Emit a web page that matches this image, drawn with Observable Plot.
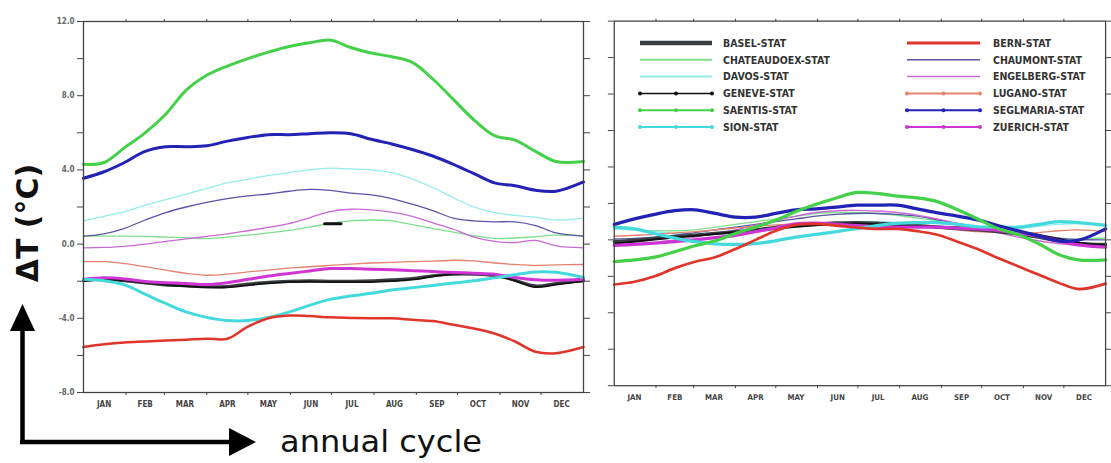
<!DOCTYPE html>
<html><head><meta charset="utf-8">
<script src="https://cdn.jsdelivr.net/npm/d3@7"></script>
<script src="https://cdn.jsdelivr.net/npm/@observablehq/plot@0.6"></script>
<style>
html,body{margin:0;padding:0;background:#fff;}
#wrap{position:relative;width:1111px;height:463px;overflow:hidden;background:#fff;}
#left{position:absolute;left:0;top:0;}
#right{position:absolute;left:600px;top:0;}
#deco{position:absolute;left:0;top:0;pointer-events:none;}
</style></head>
<body><div id="wrap"><div id="left"></div><div id="right"></div><svg id="deco" width="1111" height="463"></svg></div>
<script>
// ---------- data ----------
const days = [0,15,30,45,60,75,90,105,120,135,150,165,180,195,210,225,240,255,270,285,300,315,330,345,365];
const monthLabels = ["JAN","FEB","MAR","APR","MAY","JUN","JUL","AUG","SEP","OCT","NOV","DEC"];
const monthStarts = [31,59,90,120,151,181,212,243,273,304,334];
const monthMids = [15,45,74,105,135,166,196,227,258,288,319,349];
const yTicks = [-8,-6,-4,-2,0,2,4,6,8,10,12];

const stations = ["BASEL-STAT","CHATEAUDOEX-STAT","DAVOS-STAT","GENEVE-STAT","SAENTIS-STAT","SION-STAT",
                  "BERN-STAT","CHAUMONT-STAT","ENGELBERG-STAT","LUGANO-STAT","SEGLMARIA-STAT","ZUERICH-STAT"];

// left panel (ΔT, °C)
const baselL      = [-1.95,-1.9,-1.98,-2.1,-2.2,-2.25,-2.3,-2.28,-2.15,-2.05,-2.0,-1.98,-2.0,-2.0,-1.98,-1.92,-1.85,-1.7,-1.62,-1.62,-1.7,-1.95,-2.25,-2.12,-1.98];
const chateauL    = [0.43,0.43,0.43,0.42,0.38,0.35,0.3,0.38,0.48,0.6,0.74,0.92,1.12,1.25,1.3,1.25,1.05,0.83,0.65,0.45,0.3,0.33,0.4,0.48,0.45];
const davosL      = [1.25,1.5,1.75,2.1,2.4,2.7,3.0,3.3,3.5,3.7,3.85,4.0,4.1,4.05,4.0,3.85,3.5,3.05,2.5,2.0,1.7,1.55,1.45,1.3,1.4];
const geneveL     = [-2.0,-1.92,-1.95,-2.08,-2.18,-2.28,-2.33,-2.33,-2.22,-2.12,-2.05,-2.03,-2.05,-2.05,-2.05,-2.0,-1.92,-1.75,-1.6,-1.6,-1.65,-1.98,-2.32,-2.18,-2.0];
const saentisL    = [4.3,4.4,5.2,6.0,7.0,8.3,9.1,9.6,10.0,10.35,10.65,10.85,11.0,10.6,10.3,10.1,9.8,8.9,7.8,6.7,5.85,5.6,5.0,4.45,4.45];
const sionL       = [-1.9,-1.98,-2.2,-2.7,-3.2,-3.65,-3.95,-4.12,-4.12,-3.95,-3.67,-3.3,-2.98,-2.8,-2.65,-2.47,-2.35,-2.23,-2.1,-1.98,-1.82,-1.65,-1.5,-1.52,-1.8];
const bernL       = [-5.55,-5.4,-5.3,-5.25,-5.2,-5.15,-5.1,-5.1,-4.45,-4.0,-3.85,-3.88,-3.95,-3.98,-4.0,-4.0,-4.08,-4.15,-4.35,-4.55,-4.82,-5.25,-5.8,-5.88,-5.55];
const chaumontL   = [0.43,0.55,0.85,1.3,1.7,2.0,2.25,2.45,2.6,2.7,2.85,2.95,2.9,2.75,2.65,2.45,2.15,1.8,1.4,1.25,1.2,1.2,1.0,0.6,0.43];
const engelbergL  = [-0.2,-0.18,-0.12,0.0,0.15,0.28,0.42,0.55,0.72,0.9,1.1,1.42,1.75,1.88,1.85,1.72,1.5,1.15,0.8,0.38,0.15,0.08,0.2,-0.1,-0.2];
const luganoL     = [-0.95,-0.95,-1.05,-1.22,-1.4,-1.58,-1.68,-1.62,-1.5,-1.4,-1.3,-1.22,-1.15,-1.08,-1.02,-0.98,-0.95,-0.92,-0.87,-0.9,-1.02,-1.1,-1.15,-1.12,-1.1];
const seglmariaL  = [3.55,3.9,4.4,5.0,5.25,5.25,5.3,5.55,5.75,5.9,5.9,5.95,6.0,5.95,5.65,5.4,5.1,4.75,4.3,3.8,3.3,3.15,2.9,2.85,3.35];
const zuerichL    = [-1.9,-1.82,-1.88,-2.02,-2.08,-2.12,-2.18,-2.08,-1.9,-1.72,-1.58,-1.45,-1.32,-1.32,-1.35,-1.38,-1.43,-1.48,-1.53,-1.57,-1.62,-1.8,-1.92,-1.95,-1.9];
// small black mark in the left panel
const markDays = [176,188];
const markVals = [1.1,1.1];

// right panel
const baselR      = [-0.1,-0.02,0.08,0.18,0.26,0.35,0.45,0.55,0.68,0.8,0.88,0.93,0.95,0.92,0.85,0.78,0.7,0.62,0.55,0.45,0.32,0.15,-0.05,-0.2,-0.25];
const chateauR    = [0.6,0.55,0.5,0.5,0.55,0.7,0.85,1.0,1.15,1.3,1.45,1.5,1.5,1.45,1.35,1.2,1.05,0.85,0.65,0.45,0.3,0.1,0.0,0.05,0.1];
const davosR      = [0.6,0.55,0.45,0.35,0.3,0.3,0.35,0.45,0.55,0.7,0.8,0.9,1.0,1.0,0.95,0.85,0.7,0.6,0.5,0.5,0.6,0.75,0.85,0.9,0.85];
const geneveR     = [-0.2,-0.1,0.02,0.13,0.22,0.32,0.42,0.5,0.62,0.72,0.8,0.86,0.9,0.86,0.8,0.76,0.72,0.7,0.64,0.57,0.45,0.28,0.05,-0.15,-0.3];
const saentisR    = [-1.2,-1.1,-0.95,-0.65,-0.32,-0.05,0.35,0.7,1.08,1.55,1.95,2.3,2.6,2.55,2.4,2.3,2.1,1.65,1.15,0.62,0.3,-0.2,-0.8,-1.1,-1.1];
const sionR       = [0.7,0.6,0.35,0.1,-0.1,-0.22,-0.25,-0.2,-0.05,0.15,0.3,0.45,0.62,0.78,0.9,0.95,0.95,0.85,0.72,0.7,0.7,0.85,1.0,0.95,0.8];
const bernR       = [-2.45,-2.3,-2.0,-1.55,-1.2,-0.95,-0.5,0.0,0.5,0.82,0.88,0.78,0.68,0.6,0.6,0.48,0.28,-0.1,-0.5,-1.0,-1.45,-1.9,-2.35,-2.7,-2.4];
const chaumontR   = [0.05,0.08,0.15,0.25,0.4,0.55,0.7,0.85,1.0,1.15,1.3,1.4,1.45,1.45,1.4,1.3,1.1,0.9,0.7,0.5,0.35,0.2,0.1,0.02,0.0];
const engelbergR  = [-0.3,-0.25,-0.15,0.0,0.15,0.35,0.55,0.8,1.05,1.3,1.5,1.6,1.62,1.58,1.5,1.35,1.15,0.9,0.65,0.4,0.15,-0.05,-0.2,-0.3,-0.35];
const luganoR     = [0.2,0.25,0.3,0.38,0.45,0.55,0.65,0.75,0.82,0.88,0.9,0.92,0.9,0.88,0.82,0.75,0.65,0.55,0.45,0.4,0.38,0.4,0.5,0.55,0.45];
const seglmariaR  = [0.85,1.15,1.4,1.6,1.65,1.45,1.25,1.25,1.45,1.65,1.7,1.8,1.9,1.9,1.9,1.7,1.48,1.3,1.1,0.78,0.5,0.22,-0.05,-0.02,0.6];
const zuerichR    = [-0.3,-0.25,-0.18,-0.1,0.0,0.12,0.25,0.45,0.65,0.88,0.92,0.85,0.78,0.72,0.7,0.7,0.7,0.65,0.6,0.52,0.38,0.2,-0.05,-0.28,-0.4];

// ---------- styles ----------
const style = {
  "BASEL-STAT":       {color:"#3a3f44", w:3.0, lw:4.5, marker:false},
  "CHATEAUDOEX-STAT": {color:"#7fe08c", w:1.3, lw:2,   marker:false},
  "DAVOS-STAT":       {color:"#95ecea", w:1.3, lw:2,   marker:false},
  "GENEVE-STAT":      {color:"#111111", w:1.8, lw:1.5, marker:true},
  "SAENTIS-STAT":     {color:"#45d04a", w:3.0, lw:2,   marker:true},
  "SION-STAT":        {color:"#44d9dc", w:3.0, lw:2,   marker:true},
  "BERN-STAT":        {color:"#e0352a", w:2.5, lw:3,   marker:false},
  "CHAUMONT-STAT":    {color:"#5b55a8", w:1.3, lw:1.5, marker:false},
  "ENGELBERG-STAT":   {color:"#c96ad6", w:1.3, lw:1.5, marker:false},
  "LUGANO-STAT":      {color:"#e5836f", w:1.3, lw:2,   marker:true},
  "SEGLMARIA-STAT":   {color:"#2222b4", w:3.0, lw:2,   marker:true},
  "ZUERICH-STAT":     {color:"#cf35d2", w:3.0, lw:2,   marker:true}
};
const drawOrder = ["CHATEAUDOEX-STAT","DAVOS-STAT","CHAUMONT-STAT","ENGELBERG-STAT","LUGANO-STAT",
                   "BASEL-STAT","GENEVE-STAT","ZUERICH-STAT","SION-STAT","BERN-STAT","SEGLMARIA-STAT","SAENTIS-STAT"];

const leftSeries = {"BASEL-STAT":baselL,"CHATEAUDOEX-STAT":chateauL,"DAVOS-STAT":davosL,"GENEVE-STAT":geneveL,
  "SAENTIS-STAT":saentisL,"SION-STAT":sionL,"BERN-STAT":bernL,"CHAUMONT-STAT":chaumontL,"ENGELBERG-STAT":engelbergL,
  "LUGANO-STAT":luganoL,"SEGLMARIA-STAT":seglmariaL,"ZUERICH-STAT":zuerichL};
const rightSeries = {"BASEL-STAT":baselR,"CHATEAUDOEX-STAT":chateauR,"DAVOS-STAT":davosR,"GENEVE-STAT":geneveR,
  "SAENTIS-STAT":saentisR,"SION-STAT":sionR,"BERN-STAT":bernR,"CHAUMONT-STAT":chaumontR,"ENGELBERG-STAT":engelbergR,
  "LUGANO-STAT":luganoR,"SEGLMARIA-STAT":seglmariaR,"ZUERICH-STAT":zuerichR};

const toRows = (vals) => days.map((d, i) => ({day: d, value: vals[i]}));
const font = "'DejaVu Sans Condensed','DejaVu Sans',sans-serif";

function panel(series, opts) {
  const lines = drawOrder.map(s => Plot.line(toRows(series[s]), {
    x: "day", y: "value", stroke: style[s].color, strokeWidth: style[s].w * (opts.wScale || 1),
    curve: "catmull-rom", strokeLinejoin: "round", strokeLinecap: "round"
  }));
  return Plot.plot({
    width: opts.width, height: 420,
    marginLeft: opts.ml, marginRight: opts.mr, marginTop: 21, marginBottom: 28,
    x: {domain: [0, 365]},
    y: {domain: [-8, 12]},
    style: {fontFamily: font, fontSize: "8px", color: "#444", background: "transparent", overflow: "visible"},
    marks: [
      Plot.axisY({anchor: "left", ticks: yTicks, tickSize: 6, tickPadding: 3, label: null, fontWeight: "bold", fill: "#666",
        tickFormat: d => opts.labels && d % 4 === 0 ? d.toFixed(1) : ""}),
      Plot.axisY({anchor: "right", ticks: yTicks, tickSize: 6, label: null, tickFormat: () => ""}),
      Plot.axisX({anchor: "top", ticks: monthStarts, tickSize: 3, label: null, tickFormat: () => ""}),
      Plot.axisX({anchor: "bottom", ticks: monthStarts, tickSize: 3, label: null, tickFormat: () => ""}),
      Plot.axisX({anchor: "bottom", ticks: monthMids, tickSize: 0, tickPadding: 9, label: null, fontWeight: "bold",
        fontSize: 8, fill: "#444", tickFormat: d => monthLabels[monthMids.indexOf(d)]}),
      ...lines,
      ...(opts.extra || []),
      Plot.frame({stroke: "#444", strokeWidth: 1.3})
    ]
  });
}

document.getElementById("left").append(panel(leftSeries, {width: 600, ml: 83, mr: 17, labels: true,
  extra: [Plot.line(markDays.map((d, i) => ({day: d, value: markVals[i]})), {x: "day", y: "value", stroke: "#111", strokeWidth: 3})]}));
document.getElementById("right").append(panel(rightSeries, {width: 520, ml: 14, mr: 6, labels: false, wScale: 1.1}));

// ---------- legend, axis title, arrows ----------
const deco = d3.select("#deco");
const legendCols = [stations.slice(0, 6), stations.slice(6)];
const colX = [[640, 712, 723], [907, 980, 993]];
legendCols.forEach((col, ci) => {
  col.forEach((s, ri) => {
    const y = 43 + ri * 16.8;
    const [x1, x2, tx] = colX[ci];
    const st = style[s];
    deco.append("line").attr("x1", x1).attr("x2", x2).attr("y1", y).attr("y2", y)
      .attr("stroke", st.color).attr("stroke-width", st.lw);
    if (st.marker) {
      [x1, (x1 + x2) / 2, x2].forEach(mx => deco.append("circle").attr("cx", mx).attr("cy", y).attr("r", 2)
        .attr("fill", st.color));
    }
    deco.append("text").attr("x", tx).attr("y", y + 3.8).text(s)
      .attr("font-family", font).attr("font-size", 10.5).attr("font-weight", "bold").attr("fill", "#333");
  });
});

deco.append("text").attr("transform", "translate(38,223) rotate(-90)").attr("text-anchor", "middle")
  .attr("font-family", "'DejaVu Sans',sans-serif").attr("font-weight", "bold").attr("font-size", 30)
  .attr("fill", "#111").text("ΔT (°C)");

// arrows
deco.append("path").attr("d", "M22.5,444 L22.5,328 M20,442 L232,442").attr("stroke", "#000")
  .attr("stroke-width", 4.5).attr("fill", "none");
deco.append("path").attr("d", "M10,331 L35,331 L22.5,304 Z").attr("fill", "#000");
deco.append("path").attr("d", "M229,428 L229,456 L256,442 Z").attr("fill", "#000");

deco.append("text").attr("x", 280).attr("y", 452).attr("font-family", "'DejaVu Sans',sans-serif")
  .attr("font-size", 30).attr("textLength", 202).attr("lengthAdjust", "spacingAndGlyphs")
  .attr("fill", "#111").text("annual cycle");
</script>
</body></html>
